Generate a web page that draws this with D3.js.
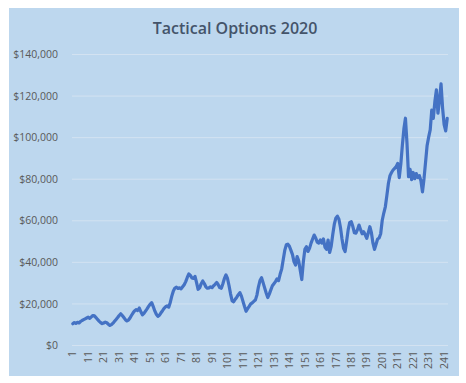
<!DOCTYPE html>
<html>
<head>
<meta charset="utf-8">
<script src="https://cdn.jsdelivr.net/npm/d3@7"></script>
<style>
  body { margin: 0; background: #fff; }
  text { font-family: "Open Sans", "Liberation Sans", sans-serif; }
</style>
</head>
<body>
<div id="chart"></div>
<script>
const title = "Tactical Options 2020";

// portfolio value per period
const values = [
  10200, 10800, 10400, 10900, 10600, 11300, 11800, 12200, 12600, 13000,
  13400, 12800, 13500, 14200, 14000, 13200, 12300, 11500, 10800, 10300,
  10600, 11000, 10700, 10000, 9400, 9800, 10500, 11400, 12300, 13200,
  14200, 15000, 14200, 13200, 12200, 11600, 12000, 13000, 14300, 15500,
  16500, 17000, 16600, 17800, 16000, 14500, 15200, 16300, 17400, 18600,
  19600, 20400, 18500, 16400, 14800, 13800, 14300, 15500, 16500, 17600,
  18400, 18800, 18200, 20500, 23500, 26000, 27400, 27800, 27200, 27500,
  27000, 28000, 29000, 30500, 32500, 34200, 33500, 32200, 32000, 33000,
  30000, 26800, 27500, 29500, 30800, 29600, 28000, 27300, 27500, 28000,
  27600, 28500, 29200, 30100, 29000, 27600, 27300, 29500, 32000, 33700,
  32000, 28500, 24500, 21200, 20800, 22000, 23000, 24200, 25200, 23500,
  21000, 18500, 16200, 17500, 18600, 19800, 20300, 21000, 21600, 24000,
  28000, 31000, 32400, 30000, 27500, 25000, 22800, 24500, 26500, 28500,
  29500, 30500, 31800, 31000, 34000, 36500, 41000, 45500, 48200, 48500,
  47500, 45500, 43500, 40000, 38500, 42500, 40500, 36000, 31500, 40000,
  46000, 47300, 45000, 46500, 49000, 51000, 52900, 51500, 49500, 49000,
  50500, 49000, 51000, 47000, 46000, 50500, 44500, 47500, 53000, 58000,
  61000, 62000, 60500, 56500, 51000, 46500, 45000, 50000, 55500, 59000,
  59300, 57000, 54000, 53800, 55500, 57700, 55500, 53500, 54500, 53000,
  51300, 54000, 56900, 54000, 49000, 46000, 48500, 51000, 51500, 53500,
  60000, 63500, 66500, 72000, 77800, 81500, 83000, 84200, 85000, 85800,
  87400, 80500, 87000, 96000, 104000, 109100, 97000, 81000, 84500, 79500,
  83000, 80000, 82500, 80500, 81500, 79000, 73700, 80000, 88000, 96000,
  100000, 103500, 113000, 109000, 117000, 122700, 111500, 118000, 125600, 114000,
  106000, 103000, 109000
];
const periods = values.map((v, i) => i + 1);

const xTicks = [1, 11, 21, 31, 41, 51, 61, 71, 81, 91, 101, 111, 121, 131, 141, 151, 161, 171, 181, 191, 201, 211, 221, 231, 241];
const yTicks = [0, 20000, 40000, 60000, 80000, 100000, 120000, 140000];

const width = 466;
const height = 383;
const plot = { left: 72, right: 448, top: 54, bottom: 345 };

const svg = d3.select("#chart").append("svg").attr("width", width).attr("height", height);

svg.append("rect")
  .attr("x", 9).attr("y", 8)
  .attr("width", 450).attr("height", 368)
  .attr("fill", "#bdd7ee");

svg.append("text")
  .attr("x", 235).attr("y", 34)
  .attr("text-anchor", "middle")
  .attr("font-size", 16)
  .attr("font-weight", 600)
  .attr("fill", "#44546a")
  .text(title);

const x = d3.scaleBand().domain(periods).range([plot.left, plot.right]);
const y = d3.scaleLinear().domain([0, 140000]).range([plot.bottom, plot.top]);

// gridlines
svg.append("g")
  .attr("transform", `translate(${plot.left},0)`)
  .call(d3.axisLeft(y).tickValues(yTicks).tickSize(-(plot.right - plot.left)).tickFormat(""))
  .call((g) => g.select(".domain").remove())
  .call((g) => g.selectAll("line").attr("stroke", "#d3e2f1").attr("stroke-width", 1));

// y labels
svg.append("g")
  .attr("transform", `translate(${plot.left - 11},0)`)
  .call(d3.axisLeft(y).tickValues(yTicks).tickSize(0).tickFormat(d3.format("$,")))
  .call((g) => g.select(".domain").remove())
  .call((g) => g.selectAll("text")
    .attr("font-family", "Open Sans, Liberation Sans, sans-serif")
    .attr("font-size", 10.5)
    .attr("fill", "#595959")
    .attr("dy", "0.35em"));

// x labels
svg.append("g")
  .attr("transform", `translate(0,${plot.bottom})`)
  .call(d3.axisBottom(x).tickValues(xTicks).tickSize(0))
  .call((g) => g.select(".domain").remove())
  .call((g) => g.selectAll("text")
    .attr("font-family", "Open Sans, Liberation Sans, sans-serif")
    .attr("font-size", 10.5)
    .attr("fill", "#595959")
    .attr("transform", "rotate(-90)")
    .attr("text-anchor", "end")
    .attr("x", -6)
    .attr("y", 0)
    .attr("dy", "0.35em"));

const line = d3.line()
  .x((d, i) => x(periods[i]) + x.bandwidth() / 2)
  .y((d) => y(d));

svg.append("path")
  .datum(values)
  .attr("fill", "none")
  .attr("stroke", "#4472c4")
  .attr("stroke-width", 3.2)
  .attr("stroke-linejoin", "round")
  .attr("stroke-linecap", "round")
  .attr("d", line);
</script>
</body>
</html>
